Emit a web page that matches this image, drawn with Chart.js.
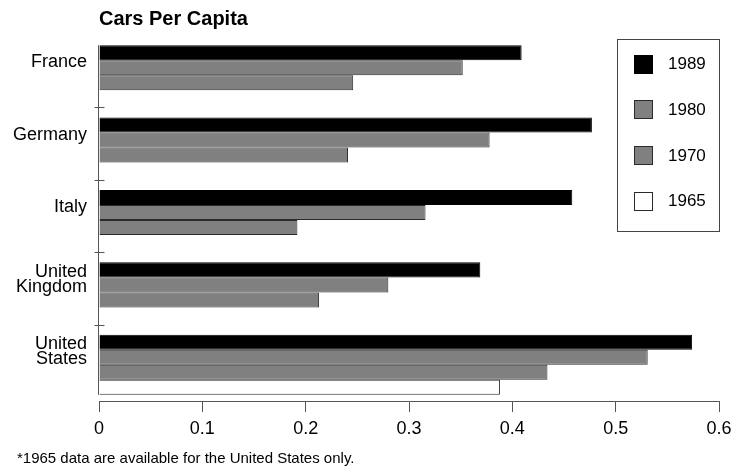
<!DOCTYPE html>
<html>
<head>
<meta charset="utf-8">
<title>Cars Per Capita</title>
<script src="https://cdn.jsdelivr.net/npm/chart.js@4/dist/chart.umd.min.js"></script>
<style>
  html, body { margin: 0; padding: 0; background: #fff; }
  #wrap { width: 747px; height: 470px; position: relative; }
</style>
</head>
<body>
<div id="wrap"><canvas id="chart" width="747" height="470"></canvas></div>
<script>
// Categories (multi-line labels as arrays)
const countries = [['France'], ['Germany'], ['Italy'], ['United', 'Kingdom'], ['United', 'States']];
// Series labels
const years = ['1989', '1980', '1970', '1965'];
// Cars per capita by year
const cars1989 = [0.409, 0.477, 0.458, 0.369, 0.574];
const cars1980 = [0.352, 0.378, 0.316, 0.280, 0.531];
const cars1970 = [0.246, 0.241, 0.192, 0.213, 0.434];
const cars1965 = [null, null, null, null, 0.388];
// Value axis tick labels
const xTickLabels = ['0', '0.1', '0.2', '0.3', '0.4', '0.5', '0.6'];
const chartTitle = 'Cars Per Capita';
const footnote = '*1965 data are available for the United States only.';

const FONT = '"Liberation Sans", Arial, Helvetica, sans-serif';
const AXIS = '#555';

// Draws the category axis line and its separators, the boxed legend and the footnote.
const decorations = {
  id: 'decorations',
  afterDraw(chart) {
    const ctx = chart.ctx;
    const area = chart.chartArea;
    const yScale = chart.scales.y;
    ctx.save();

    // category axis line from the first bar's top to the last bar's bottom
    const first = chart.getDatasetMeta(0).data[0];
    const lastMeta = chart.getDatasetMeta(chart.data.datasets.length - 1);
    const last = lastMeta.data[lastMeta.data.length - 1];
    const ax = Math.round(area.left) - 0.5;
    ctx.strokeStyle = AXIS;
    ctx.lineWidth = 1;
    ctx.beginPath();
    ctx.moveTo(ax, first.y - first.height / 2);
    ctx.lineTo(ax, last.y + last.height / 2);
    ctx.stroke();

    // separators between categories, crossing the axis
    for (let i = 1; i < yScale.ticks.length; i++) {
      const y = Math.round((yScale.getPixelForTick(i - 1) + yScale.getPixelForTick(i)) / 2) - 3.5;
      ctx.beginPath();
      ctx.moveTo(ax - 4, y);
      ctx.lineTo(ax + 6, y);
      ctx.stroke();
    }

    // legend box in the upper right of the plot
    const bx = 617.5, by = 39.5, bw = 102, bh = 192;
    ctx.fillStyle = '#fff';
    ctx.fillRect(bx, by, bw, bh);
    ctx.strokeStyle = '#444';
    ctx.strokeRect(bx, by, bw, bh);
    ctx.font = '17px ' + FONT;
    ctx.textBaseline = 'middle';
    ctx.textAlign = 'left';
    chart.data.datasets.forEach((ds, i) => {
      const cy = 63.5 + i * 45.7;
      ctx.fillStyle = ds.backgroundColor;
      ctx.fillRect(634.5, Math.round(cy - 9) + 0.5, 18, 18);
      ctx.strokeStyle = ds.borderColor;
      ctx.strokeRect(634.5, Math.round(cy - 9) + 0.5, 18, 18);
      ctx.fillStyle = '#000';
      ctx.fillText(ds.label, 668, cy + 1);
    });

    // footnote
    ctx.font = '15px ' + FONT;
    ctx.textBaseline = 'alphabetic';
    ctx.fillStyle = '#000';
    ctx.fillText(footnote, 17, 463);
    ctx.restore();
  }
};

const series = [cars1989, cars1980, cars1970, cars1965];
const fills = ['#000000', '#808080', '#808080', '#ffffff'];
const edges = ['#000000', '#2a2a2a', '#2a2a2a', '#2a2a2a'];

new Chart(document.getElementById('chart'), {
  type: 'bar',
  data: {
    labels: countries,
    datasets: years.map((yr, i) => ({
      label: yr,
      data: series[i],
      backgroundColor: fills[i],
      borderColor: edges[i],
      borderWidth: 1,
      borderSkipped: 'start',
      categoryPercentage: 0.83,
      barPercentage: 1.0
    }))
  },
  options: {
    indexAxis: 'y',
    responsive: false,
    animation: false,
    devicePixelRatio: 1,
    layout: { padding: { top: 0, right: 28, bottom: 0, left: 0 } },
    plugins: {
      legend: { display: false },
      tooltip: { enabled: false },
      title: {
        display: true,
        text: chartTitle,
        align: 'start',
        fullSize: false,
        color: '#000',
        font: { family: FONT, size: 20, weight: 'bold', lineHeight: 1.2 },
        padding: { top: 7, bottom: 8 }
      }
    },
    scales: {
      x: {
        type: 'linear',
        position: 'bottom',
        min: 0,
        max: 0.6,
        afterFit: (s) => { s.height = 69; },
        border: { display: true, color: AXIS, width: 1 },
        grid: { drawOnChartArea: false, drawTicks: true, tickLength: 11, color: AXIS },
        ticks: {
          stepSize: 0.1,
          autoSkip: false,
          maxRotation: 0,
          padding: 6,
          color: '#000',
          font: { family: FONT, size: 18 },
          callback: (v, i) => xTickLabels[i]
        }
      },
      y: {
        type: 'category',
        afterFit: (s) => { s.width = 99; },
        border: { display: false },
        grid: { display: false, drawTicks: false },
        ticks: {
          padding: 12,
          labelOffset: -13,
          color: '#000',
          font: { family: FONT, size: 18, lineHeight: 0.85 }
        }
      }
    }
  },
  plugins: [decorations]
});
</script>
</body>
</html>
